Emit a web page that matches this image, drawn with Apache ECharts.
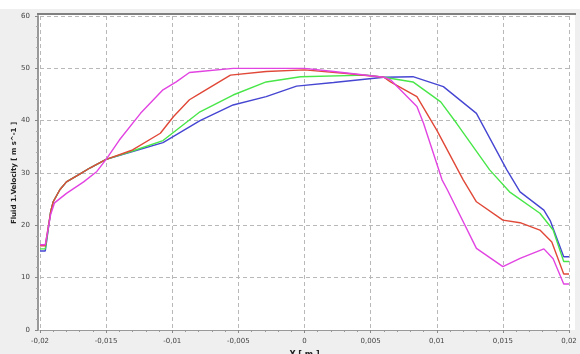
<!DOCTYPE html>
<html><head><meta charset="utf-8">
<script src="https://cdn.jsdelivr.net/npm/echarts@6/dist/echarts.min.js"></script>
<style>html,body{margin:0;padding:0;background:#fff}#c{width:580px;height:354px}</style>
</head><body><div id="c"></div>
<script>
const xTicks = [-0.02, -0.015, -0.01, -0.005, 0, 0.005, 0.01, 0.015, 0.02];
const yTicks = [0, 10, 20, 30, 40, 50, 60];
const blue = [[-0.02,15.1],[-0.0196,15.1],[-0.0192,22.5],[-0.019,24.5],[-0.0185,26.8],[-0.018,28.3],[-0.017,29.8],[-0.0162,31.0],[-0.015,32.6],[-0.013,34.1],[-0.0107,35.8],[-0.0079,40.0],[-0.0054,43.0],[-0.0029,44.6],[-0.0006,46.6],[0.0022,47.3],[0.006,48.3],[0.0082,48.4],[0.0105,46.5],[0.013,41.4],[0.0153,30.6],[0.0163,26.4],[0.0181,22.9],[0.0186,20.8],[0.0196,14.0],[0.02,14.0]];
const green = [[-0.02,15.5],[-0.0196,15.5],[-0.0192,22.5],[-0.019,24.5],[-0.0185,26.8],[-0.018,28.3],[-0.017,29.8],[-0.0162,31.0],[-0.015,32.6],[-0.013,34.2],[-0.0107,36.2],[-0.0079,41.7],[-0.0054,44.9],[-0.0029,47.4],[-0.0003,48.4],[0.0047,48.7],[0.006,48.3],[0.0082,47.4],[0.0103,43.6],[0.0115,39.5],[0.014,30.6],[0.0155,26.4],[0.0178,22.3],[0.0188,19.1],[0.0196,13.1],[0.02,13.1]];
const red = [[-0.02,16.1],[-0.0196,16.1],[-0.0192,22.5],[-0.019,24.5],[-0.0185,26.8],[-0.018,28.3],[-0.017,29.8],[-0.0162,31.0],[-0.015,32.6],[-0.013,34.4],[-0.0109,37.6],[-0.0099,40.8],[-0.0087,44.0],[-0.0079,45.2],[-0.0056,48.7],[-0.0029,49.4],[0,49.7],[0.0032,49.0],[0.006,48.3],[0.0065,47.4],[0.0085,44.6],[0.01,38.2],[0.012,28.7],[0.013,24.5],[0.015,21.0],[0.0163,20.5],[0.0178,19.1],[0.0187,16.8],[0.0196,10.7],[0.02,10.7]];
const magenta = [[-0.02,16.3],[-0.0196,16.3],[-0.0192,22.0],[-0.0189,24.3],[-0.018,26.1],[-0.0167,28.3],[-0.0157,30.3],[-0.015,32.6],[-0.014,36.3],[-0.0124,41.4],[-0.0107,45.9],[-0.0097,47.4],[-0.0087,49.2],[-0.0079,49.4],[-0.0054,50.0],[0,50.0],[0.0022,49.4],[0.006,48.3],[0.0065,47.8],[0.0085,42.7],[0.009,39.5],[0.0104,28.7],[0.0108,26.8],[0.013,15.6],[0.015,12.1],[0.0163,13.7],[0.0181,15.5],[0.0188,13.6],[0.0196,8.8],[0.02,8.8]];

const chart = echarts.init(document.getElementById('c'), null, {renderer:'canvas'});
const fmt = v => String(Math.round(v*1000)/1000).replace('.', ',');
const mk = (data, color) => ({type:'line', data, symbol:'none', lineStyle:{color, width:1.4}, itemStyle:{color}, animation:false});
chart.setOption({
  animation:false,
  backgroundColor:'#efefef',
  graphic:[
    {type:'rect', shape:{x:0,y:0,width:580,height:9}, style:{fill:'#ffffff'}, silent:true, z:-10},
    {type:'rect', shape:{x:37,y:14,width:538,height:316}, style:{fill:'#ffffff'}, silent:true, z:-5},
    {type:'line', shape:{x1:37,y1:14,x2:576,y2:14}, style:{stroke:'#808080', lineWidth:2}, silent:true, z:10}
  ],
  grid:{left:40, right:11, top:16, bottom:24, containLabel:false, outerBoundsMode:'none'},
  xAxis:{type:'value', min:-0.02, max:0.02, interval:0.005,
    name:'X [ m ]', nameLocation:'middle', nameGap:21, nameMoveOverlap:false,
    nameTextStyle:{fontFamily:'DejaVu Sans', fontSize:8, fontWeight:'bold', color:'#222'},
    axisLine:{show:true, onZero:false, lineStyle:{color:'#999', width:1}},
    axisTick:{show:true, length:3, inside:false, lineStyle:{color:'#888'}},
    minorTick:{show:true, splitNumber:5, length:2, lineStyle:{color:'#999'}},
    axisLabel:{formatter:fmt, fontFamily:'DejaVu Sans', fontSize:7, color:'#444', margin:8},
    splitLine:{show:true, lineStyle:{color:'#b8b8b8', type:[4,3], width:1}}
  },
  yAxis:{type:'value', min:0, max:60, interval:10, offset:2,
    name:'Fluid 1.Velocity [ m s^-1 ]', nameLocation:'middle', nameGap:20, nameRotate:90, nameMoveOverlap:false,
    nameTextStyle:{fontFamily:'DejaVu Sans', fontSize:7, fontWeight:'bold', color:'#222'},
    axisLine:{show:true, onZero:false, lineStyle:{color:'#999', width:2}},
    axisTick:{show:true, length:3, lineStyle:{color:'#888'}},
    minorTick:{show:true, splitNumber:5, length:2, lineStyle:{color:'#aaa'}},
    axisLabel:{fontFamily:'DejaVu Sans', fontSize:7, color:'#444', margin:8},
    splitLine:{show:true, lineStyle:{color:'#b8b8b8', type:[4,3], width:1}}
  },
  series:[mk(blue,'#4646d2'), mk(green,'#48e648'), mk(red,'#e04838'), mk(magenta,'#e244e2')]
});
</script></body></html>
